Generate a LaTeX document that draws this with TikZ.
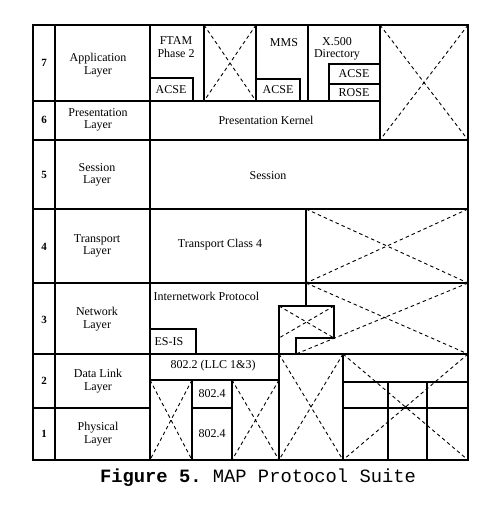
\documentclass[tikz,border=0pt]{standalone}
\usepackage{fontspec}
\setmainfont{Liberation Serif}
\setmonofont{Liberation Mono}
\begin{document}
\begin{tikzpicture}[x=1pt, y=-1pt, line width=1.2pt,
	void/.style={line width=0.9pt, dash pattern=on 3.5pt off 3pt},
	lbl/.style={align=center, font=\fontsize{12}{12.5}\selectfont, inner sep=0pt},
	num/.style={font=\fontsize{11}{12}\selectfont\bfseries, inner sep=0pt}]

	\useasboundingbox (0,0) rectangle (500,506);

	\draw (33,25) rectangle (468,460);
	\draw (55,25) -- (55,460);
	\draw (150,25) -- (150,460);

	\draw (33,101) -- (380,101);
	\draw (33,140) -- (468,140);
	\draw (33,209) -- (468,209);
	\draw (33,283) -- (468,283);
	\draw (33,354) -- (468,354);
	\draw (33,408) -- (150,408);

	\draw (204,25) -- (204,101);
	\draw (256,25) -- (256,101);
	\draw (308,25) -- (308,101);
	\draw (380,25) -- (380,140);
	\draw (150,78) -| (193,101);
	\draw (256,79) -| (300,101);
	\draw (329,101) |- (380,64);
	\draw (329,84) -- (380,84);

	\draw (306,209) -- (306,306) -- (279,306) -- (279,460);
	\draw (279,306) -- (334,306) -- (334,338) -- (296,338) -- (296,354);
	\draw (150,329) -| (196,354);

	\draw (150,380) -- (279,380);
	\draw (192,380) -- (192,460);
	\draw (232,380) -- (232,460);
	\draw (192,408) -- (232,408);
	\draw (343,354) -- (343,460);
	\draw (343,382) -- (468,382);
	\draw (343,408) -- (468,408);
	\draw (388,382) -- (388,460);
	\draw (427,382) -- (427,460);

	\draw[void] (204,25) -- (256,101) (256,25) -- (204,101);
	\draw[void] (380,25) -- (468,140) (468,25) -- (380,140);
	\draw[void] (306,209) -- (468,283) (468,209) -- (306,283);
	\draw[void] (306,283) -- (468,354) (468,283) -- (296,354);
	\draw[void] (279,306) -- (334,338) (334,306) -- (279,338);
	\draw[void] (150,380) -- (192,460) (192,380) -- (150,460);
	\draw[void] (232,380) -- (279,460) (279,380) -- (232,460);
	\draw[void] (279,354) -- (343,460) (343,354) -- (279,460);
	\draw[void] (343,354) -- (468,460) (468,354) -- (343,460);

	\node (n7) [num] at (44,63) {7};
	\node (n6) [num] at (44,120) {6};
	\node (n5) [num] at (44,175) {5};
	\node (n4) [num] at (44,247) {4};
	\node (n3) [num] at (44,320) {3};
	\node (n2) [num] at (44,381) {2};
	\node (n1) [num] at (44,434) {1};

	\node (app) [lbl] at (98,65) {Application\\Layer};
	\node (pres) [lbl] at (98,120) {Presentation\\Layer};
	\node (sess) [lbl] at (97,175) {Session\\Layer};
	\node (trans) [lbl] at (97,246) {Transport\\Layer};
	\node (net) [lbl] at (97,319) {Network\\Layer};
	\node (link) [lbl] at (98,381) {Data Link\\Layer};
	\node (phys) [lbl] at (98,434) {Physical\\Layer};

	\node (ftam) [lbl] at (176,47) {FTAM\\Phase 2};
	\node (acse1) [lbl] at (171,90) {ACSE};
	\node (mms) [lbl] at (284,43) {MMS};
	\node (acse2) [lbl] at (278,90) {ACSE};
	\node (dir) [lbl] at (337,49) {X.500\\Directory};
	\node (acse3) [lbl] at (354,74) {ACSE};
	\node (rose) [lbl] at (354,93) {ROSE};
	\node (kernel) [lbl] at (266,120) {Presentation Kernel};
	\node (session) [lbl] at (268,176) {Session};
	\node (tp4) [lbl] at (220,245) {Transport Class 4};
	\node (inet) [lbl, anchor=west] at (153,296) {Internetwork Protocol};
	\node (esis) [lbl, anchor=west] at (154,342) {ES-IS};
	\node (llc) [lbl] at (213,366) {802.2 (LLC 1\&3)};
	\node (mac) [lbl] at (212,394) {802.4};
	\node (phy) [lbl] at (212,434) {802.4};

	\node (caption) [font=\fontsize{18.8}{20}\selectfont\ttfamily, inner sep=0pt] at (258,478)
		{\textbf{Figure 5.} MAP Protocol Suite};

\end{tikzpicture}
\end{document}
